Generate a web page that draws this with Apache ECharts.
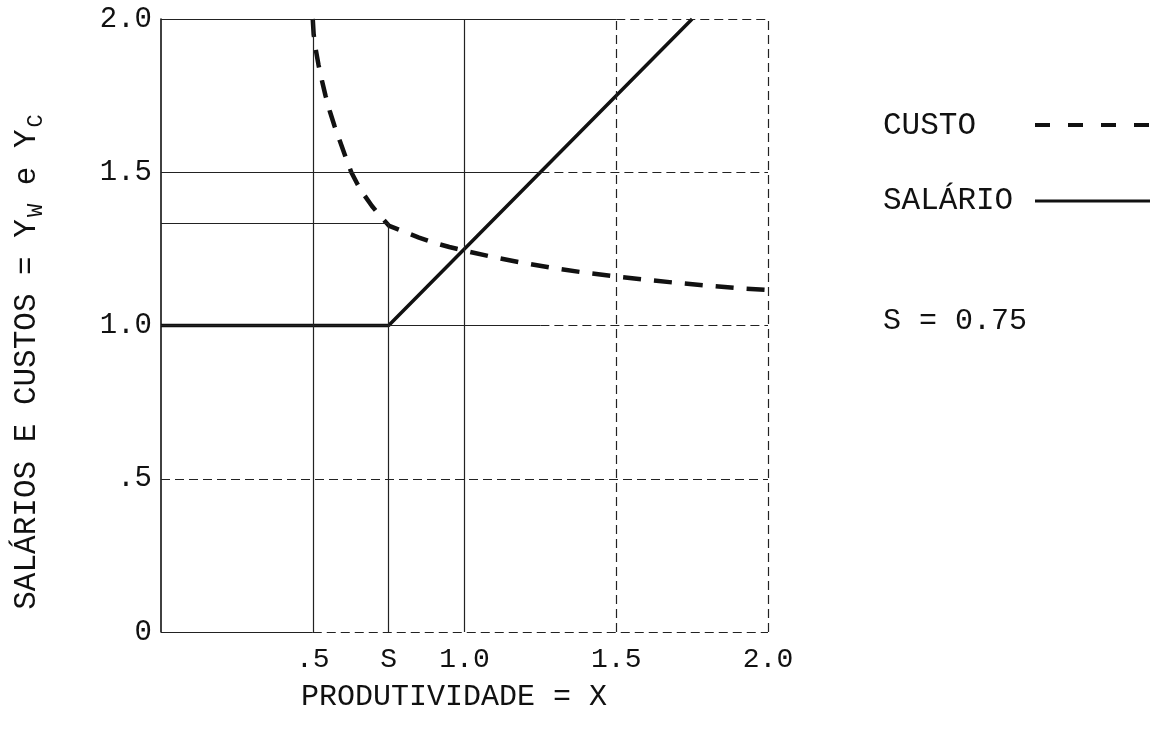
<!DOCTYPE html>
<html>
<head>
<meta charset="utf-8">
<script src="https://cdn.jsdelivr.net/npm/echarts@6/dist/echarts.min.js"></script>
<style>
  html, body { margin: 0; padding: 0; background: #ffffff; }
  #chart { width: 1163px; height: 739px; }
</style>
</head>
<body>
<div id="chart"></div>
<script>
// Tick labels: X every 0.25 (S marks the threshold productivity), Y every 0.5
const xTickLabels = ['', '', '.5', 'S', '1.0', '', '1.5', '', '2.0'];
const yTickLabels = ['0', '.5', '1.0', '1.5', '2.0'];

// Salário (Y_W) against produtividade (X)
const salario = [[0, 1.0], [0.75, 1.0], [1.75, 2.0]];

// Custo (Y_C) against produtividade (X)
const custo = [
  [0.500, 2.00], [0.503, 1.95], [0.510, 1.90], [0.519, 1.85], [0.530, 1.80],
  [0.542, 1.75], [0.556, 1.70], [0.572, 1.65], [0.590, 1.60], [0.608, 1.55],
  [0.627, 1.50], [0.648, 1.46], [0.670, 1.425], [0.695, 1.39], [0.720, 1.36],
  [0.752, 1.325], [0.80, 1.306], [0.85, 1.287], [0.90, 1.270], [0.95, 1.256],
  [1.00, 1.244], [1.10, 1.222], [1.20, 1.203], [1.30, 1.186], [1.40, 1.172],
  [1.50, 1.160], [1.60, 1.149], [1.70, 1.139], [1.80, 1.130], [1.90, 1.122],
  [2.00, 1.116]
];

// Reference lines of the frame, as pairs of [X, Y] ends
const solidGuides = [
  [[0.5, 0], [0.5, 2]], [[1, 0], [1, 2]],
  [[0.75, 0], [0.75, 1.333]], [[0, 1.333], [0.75, 1.333]],
  [[0, 1.5], [1.25, 1.5]], [[0, 1], [1.25, 1]],
  [[0, 2], [1.5, 2]], [[0, 0], [0.5, 0]]
];
const brokenGuides = [
  [[1.5, 0], [1.5, 2]], [[2, 0], [2, 2]],
  [[0, 0.5], [2, 0.5]], [[1.25, 1.5], [2, 1.5]],
  [[1.25, 1], [2, 1]], [[1.5, 2], [2, 2]], [[0.5, 0], [2, 0]]
];

const FONT = "'Liberation Mono', 'DejaVu Sans Mono', monospace";
const INK = '#111111';

function guideSeries(list, type) {
  return {
    type: 'line',
    data: [],
    silent: true,
    markLine: {
      silent: true,
      symbol: ['none', 'none'],
      label: { show: false },
      lineStyle: { color: '#222222', width: 1.2, type: type },
      emphasis: { disabled: true },
      data: list.map(seg => [{ coord: seg[0] }, { coord: seg[1] }])
    }
  };
}

const chart = echarts.init(document.getElementById('chart'), null, { renderer: 'canvas' });

chart.setOption({
  backgroundColor: '#ffffff',
  animation: false,
  grid: { left: 161, right: 395, top: 19, bottom: 107 },
  xAxis: {
    type: 'value', min: 0, max: 2, interval: 0.25,
    axisLine: { show: false },
    axisTick: { show: false },
    splitLine: { show: false },
    axisLabel: {
      margin: 14,
      fontFamily: FONT, fontSize: 28, color: INK,
      formatter: v => xTickLabels[Math.round(v / 0.25)] || ''
    }
  },
  yAxis: {
    type: 'value', min: 0, max: 2, interval: 0.5,
    axisLine: { show: true, lineStyle: { color: INK, width: 1.6 } },
    axisTick: { show: false },
    splitLine: { show: false },
    axisLabel: {
      margin: 9,
      fontFamily: FONT, fontSize: 29, color: INK,
      formatter: v => yTickLabels[Math.round(v / 0.5)]
    }
  },
  series: [
    guideSeries(solidGuides, 'solid'),
    guideSeries(brokenGuides, [9, 5]),
    {
      name: 'SALÁRIO',
      type: 'line',
      data: salario,
      showSymbol: false,
      lineStyle: { color: INK, width: 3.5 }
    },
    {
      name: 'CUSTO',
      type: 'line',
      data: custo,
      showSymbol: false,
      lineStyle: { color: INK, width: 4.5, type: [18, 13] }
    }
  ],
  graphic: [
    {
      type: 'text', x: 27, y: 362, rotation: Math.PI / 2,
      style: {
        text: 'SALÁRIOS E CUSTOS = Y{sub|W} e Y{sub|C}',
        font: '31px ' + FONT, fill: INK,
        align: 'center', verticalAlign: 'middle',
        rich: { sub: { fontSize: 22, fontFamily: FONT, fill: INK, padding: [18, 0, 0, 2] } }
      }
    },
    {
      type: 'text', x: 454, y: 697,
      style: { text: 'PRODUTIVIDADE = X', font: '30px ' + FONT, fill: INK, align: 'center', verticalAlign: 'middle' }
    },
    {
      type: 'text', x: 883, y: 126,
      style: { text: 'CUSTO', font: '31px ' + FONT, fill: INK, verticalAlign: 'middle' }
    },
    {
      type: 'line', shape: { x1: 1035, y1: 125, x2: 1152, y2: 125 },
      style: { stroke: INK, lineWidth: 4, lineDash: [15, 18] }
    },
    {
      type: 'text', x: 883, y: 201,
      style: { text: 'SALÁRIO', font: '31px ' + FONT, fill: INK, verticalAlign: 'middle' }
    },
    {
      type: 'line', shape: { x1: 1035, y1: 201, x2: 1150, y2: 201 },
      style: { stroke: INK, lineWidth: 3 }
    },
    {
      type: 'text', x: 883, y: 321,
      style: { text: 'S = 0.75', font: '30px ' + FONT, fill: INK, verticalAlign: 'middle' }
    }
  ]
});
</script>
</body>
</html>
